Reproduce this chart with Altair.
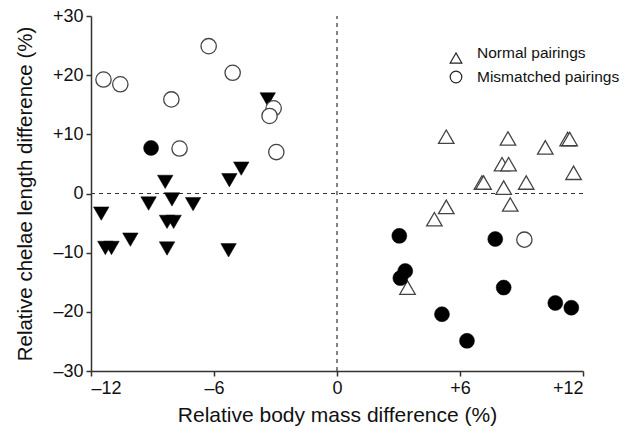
import altair as alt
import pandas as pd

# Normal pairings (open triangles, up)
normal_x = [5.33, 8.34, 10.16, 11.25, 11.35, 8.05, 8.37, 11.54, 7.07, 7.15, 8.13, 9.23, 8.45, 5.33, 4.75, 3.44]
normal_y = [9.6, 9.3, 7.8, 9.2, 9.2, 4.95, 4.95, 3.5, 1.85, 1.85, 1.0, 1.85, -1.86, -2.26, -4.34, -15.9]

# Filled triangles (down)
tri_x = [-3.38, -8.38, -4.67, -5.25, -11.5, -9.19, -8.05, -7.02, -8.29, -7.97, -11.3, -11.0, -10.08, -8.29, -5.29]
tri_y = [15.9, 1.96, 4.2, 2.25, -3.4, -1.7, -1.0, -1.8, -4.8, -4.8, -9.2, -9.2, -7.8, -9.3, -9.6]

# Mismatched pairings (open circles)
mis_x = [-11.39, -10.57, -6.26, -5.09, -8.08, -3.09, -3.29, -7.68, -2.96, 9.14]
mis_y = [19.26, 18.46, 24.9, 20.4, 15.9, 14.4, 13.1, 7.6, 7.0, -7.8]

# Filled circles
dot_x = [-9.07, 3.04, 7.72, 3.33, 3.09, 8.13, 5.12, 6.34, 10.65, 11.43]
dot_y = [7.7, -7.16, -7.7, -13.1, -14.3, -15.9, -20.4, -24.9, -18.5, -19.3]

legend_labels = ["Normal pairings", "Mismatched pairings"]
legend_shapes = ["triangle-up", "circle"]

x_ticks = [-12, -6, 0, 6, 12]
y_ticks = [-30, -20, -10, 0, 10, 20, 30]

FONT = "Liberation Sans"
xs = alt.Scale(domain=[-12, 12], nice=False, zero=False)
ys = alt.Scale(domain=[-30, 30], nice=False, zero=False)

lab_expr = "datum.value > 0 ? '+' + datum.value : (datum.value < 0 ? '\u2013' + abs(datum.value) : '0')"

xaxis = alt.Axis(values=x_ticks, labelExpr=lab_expr, grid=False, domainColor="#333",
                 domainWidth=1.5, tickColor="#333", tickWidth=1.5, tickSize=5,
                 labelFontSize=18, labelFont=FONT, labelColor="#111", labelPadding=3,
                 title="Relative body mass difference (%)", titleFont=FONT, titleFontSize=21,
                 titleFontWeight="normal", titleColor="#111", titlePadding=7)
yaxis = alt.Axis(values=y_ticks, labelExpr=lab_expr, grid=False, domainColor="#333",
                 domainWidth=1.5, tickColor="#333", tickWidth=1.5, tickSize=5,
                 labelFontSize=18, labelFont=FONT, labelColor="#111", labelPadding=3,
                 title="Relative chelae length difference (%)", titleFont=FONT, titleFontSize=20.5,
                 titleFontWeight="normal", titleColor="#111", titlePadding=17)

def df(xv, yv):
    return pd.DataFrame({"x": xv, "y": yv})

base_axes = alt.Chart(df([0], [0])).mark_point(opacity=0).encode(
    x=alt.X("x:Q", scale=xs, axis=xaxis),
    y=alt.Y("y:Q", scale=ys, axis=yaxis),
)

vline = alt.Chart(df([0], [0])).mark_rule(strokeDash=[4, 4], color="#333", strokeWidth=1.2).encode(
    x=alt.X("x:Q", scale=xs), y=alt.datum(-30), y2=alt.datum(30))
hline = alt.Chart(df([0], [0])).mark_rule(strokeDash=[4, 4], color="#333", strokeWidth=1.2).encode(
    y=alt.Y("y:Q", scale=ys), x=alt.datum(-12), x2=alt.datum(12))

normal = alt.Chart(df(normal_x, normal_y)).mark_point(
    shape="triangle-up", size=240, filled=True, fill="white", stroke="#444", strokeWidth=1.3, opacity=1
).encode(x=alt.X("x:Q", scale=xs), y=alt.Y("y:Q", scale=ys))

tri = alt.Chart(df(tri_x, tri_y)).mark_point(
    shape="triangle-down", size=240, filled=True, fill="black", stroke="black", strokeWidth=0.5, opacity=1
).encode(x=alt.X("x:Q", scale=xs), y=alt.Y("y:Q", scale=ys))

mis = alt.Chart(df(mis_x, mis_y)).mark_point(
    shape="circle", size=235, filled=True, fill="white", stroke="#444", strokeWidth=1.3, opacity=1
).encode(x=alt.X("x:Q", scale=xs), y=alt.Y("y:Q", scale=ys))

dot = alt.Chart(df(dot_x, dot_y)).mark_point(
    shape="circle", size=225, filled=True, fill="black", stroke="black", strokeWidth=0.5, opacity=1
).encode(x=alt.X("x:Q", scale=xs), y=alt.Y("y:Q", scale=ys))

# legend (positions in pixels inside the plot area)
leg_sym_y = [42, 61]
leg_txt_y = [37, 61]
leg_layers = []
for i, (lab, shp) in enumerate(zip(legend_labels, legend_shapes)):
    one = pd.DataFrame({"label": [lab]})
    leg_layers.append(alt.Chart(one).mark_point(
        shape=shp, size=135, filled=True, fill="white", stroke="#222", strokeWidth=1.2, opacity=1
    ).encode(x=alt.value(365), y=alt.value(leg_sym_y[i])))
    leg_layers.append(alt.Chart(one).mark_text(
        align="left", baseline="middle", font=FONT, fontSize=15.5, color="#111"
    ).encode(x=alt.value(386), y=alt.value(leg_txt_y[i]), text="label:N"))

chart = alt.layer(base_axes, vline, hline, tri, normal, mis, dot, *leg_layers).properties(
    width=492, height=355,
    autosize=alt.AutoSizeParams(type="none"),
    padding={"left": 91, "top": 16, "right": 52, "bottom": 63},
).configure_view(stroke=None)

chart.save("out.html", embed_options={"renderer": "svg", "actions": False})
